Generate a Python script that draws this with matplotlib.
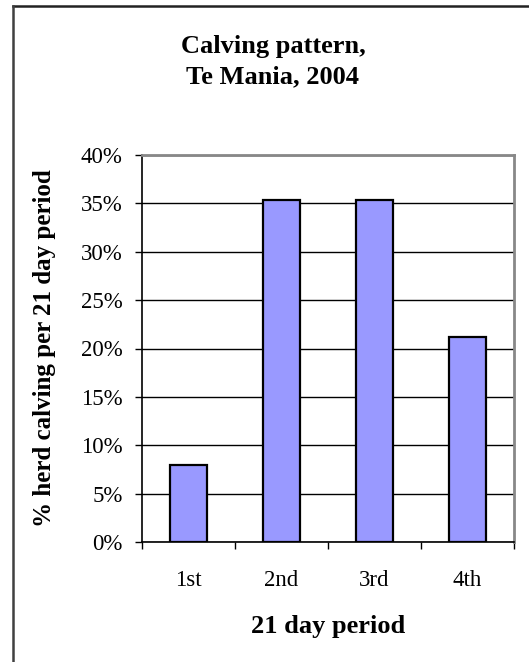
import matplotlib.pyplot as plt
from matplotlib.lines import Line2D
from matplotlib.ticker import FuncFormatter

# Share of the herd calving in each 21 day period
periods = ["1st", "2nd", "3rd", "4th"]
pct_calving = [8.0, 35.4, 35.4, 21.2]
y_ticks = [0, 5, 10, 15, 20, 25, 30, 35, 40]

plt.rcParams["font.family"] = ["Liberation Serif", "DejaVu Serif"]

W, H = 529, 662
fig = plt.figure(figsize=(W / 100, H / 100), dpi=100)

# plot area in pixel coordinates
left, right, top, bottom = 142, 514, 155, 542
ax = fig.add_axes([left / W, 1 - bottom / H, (right - left) / W, (bottom - top) / H])

x = range(len(periods))
ax.bar(x, pct_calving, width=0.4, color="#9999FF", edgecolor="black", linewidth=1.6, zorder=3)

ax.set_xlim(-0.5, len(periods) - 0.5)
ax.set_ylim(0, 40)
ax.set_yticks(y_ticks)
ax.yaxis.set_major_formatter(FuncFormatter(lambda v, p: f"{v:.0f}%"))
ax.set_xticks(x)
ax.set_xticklabels(periods)
ax.set_xticks([i - 0.5 for i in range(len(periods) + 1)], minor=True)

ax.tick_params(axis="x", which="major", length=0, pad=20, labelsize=16.5)
ax.tick_params(axis="x", which="minor", length=5, width=1, direction="out")
ax.tick_params(axis="y", length=5, width=1, direction="out", pad=9, labelsize=16.5)

ax.grid(axis="y", color="black", linewidth=1, zorder=0)
for side in ["left", "bottom"]:
    ax.spines[side].set_color("black")
    ax.spines[side].set_linewidth(1.2)
for side in ["top", "right"]:
    ax.spines[side].set_color("#888888")
    ax.spines[side].set_linewidth(2)

ax.set_ylabel("% herd calving per 21 day period", fontsize=18, fontweight="bold")
ax.yaxis.set_label_coords((56 - left) / (right - left), 0.5)
ax.set_xlabel("21 day period", fontsize=19, fontweight="bold")
ax.xaxis.set_label_coords(0.5, -(627 - bottom) / (bottom - top))
ax.xaxis.label.set_va("center")

fig.text(273 / W, 1 - 62 / H, "Calving pattern,\nTe Mania, 2004", ha="center", va="center",
         fontsize=19, fontweight="bold", linespacing=1.4)

# outer chart frame: top and left edges
fig.add_artist(Line2D([13 / W, 1], [1 - 6 / H, 1 - 6 / H], color="#222222", linewidth=1.8))
fig.add_artist(Line2D([13 / W, 13 / W], [0, 1 - 6 / H], color="#404040", linewidth=1.8))

fig.savefig("out.png", dpi=100)
